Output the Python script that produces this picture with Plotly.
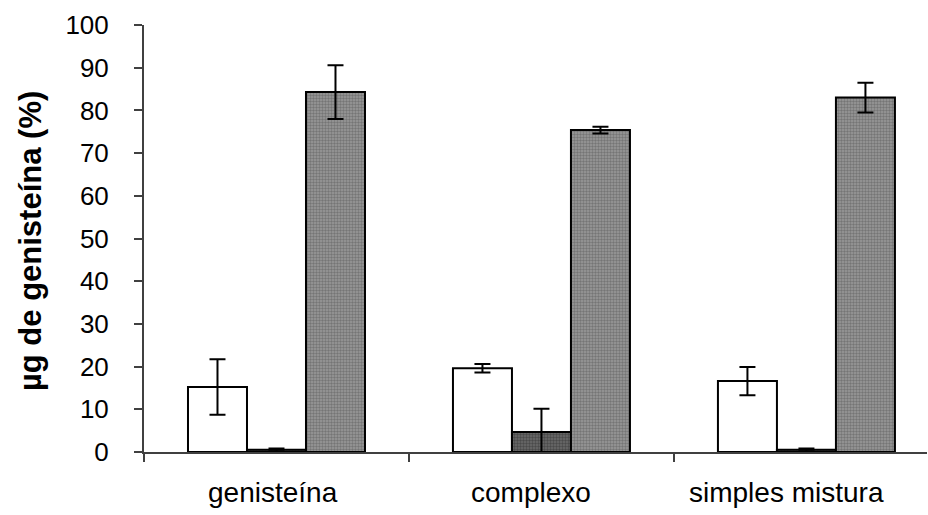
import plotly.graph_objects as go

# Sample groups and measured genistein recovery (%)
categories = ["genisteína", "complexo", "simples mistura"]
positions = [0, 1, 2]

series1_values = [15.2, 19.6, 16.6]
series1_errors = [6.5, 1.0, 3.3]

series2_values = [0.5, 4.7, 0.5]
series2_errors = [0.3, 5.4, 0.3]

series3_values = [84.3, 75.4, 83.0]
series3_errors = [6.3, 0.8, 3.5]

y_ticks = list(range(0, 101, 10))
label_offsets = [-0.015, -0.04, -0.075]

FONT = "Liberation Sans, Arial, sans-serif"
err_style = dict(type="data", color="black", thickness=2, width=8, visible=True)
outline = dict(color="black", width=2)

fig = go.Figure()
fig.add_trace(go.Bar(
    x=positions, y=series1_values,
    error_y=dict(array=series1_errors, **err_style),
    marker=dict(color="white", line=outline),
))
fig.add_trace(go.Bar(
    x=positions, y=series2_values,
    error_y=dict(array=series2_errors, **err_style),
    marker=dict(color="#5a5a5a", line=outline,
                pattern=dict(shape=".", fgcolor="#2a2a2a", bgcolor="#6a6a6a",
                             size=3, solidity=0.5)),
))
fig.add_trace(go.Bar(
    x=positions, y=series3_values,
    error_y=dict(array=series3_errors, **err_style),
    marker=dict(color="#8c8c8c", line=outline,
                pattern=dict(shape=".", fgcolor="#505050", bgcolor="#9a9a9a",
                             size=3, solidity=0.5)),
))

# Category labels, nudged under each bar group
for pos, name, off in zip(positions, categories, label_offsets):
    fig.add_annotation(
        x=pos + off, xref="x", y=-0.095, yref="paper",
        text=name, showarrow=False, yanchor="middle",
        font=dict(family=FONT, size=28, color="black"),
    )

# Y-axis title
fig.add_annotation(
    x=-0.1456, xref="paper", y=0.494, yref="paper",
    text="<b>µg de genisteína (%)</b>", textangle=-90,
    showarrow=False, xanchor="center", yanchor="middle",
    font=dict(family=FONT, size=31, color="black"),
)

fig.update_layout(
    width=928, height=515,
    margin=dict(l=144, r=1, t=25, b=63),
    paper_bgcolor="white", plot_bgcolor="white",
    barmode="group", bargap=0.332, bargroupgap=0,
    showlegend=False,
    font=dict(family=FONT, size=26, color="black"),
    xaxis=dict(
        range=[-0.5, 2.455],
        tickmode="array", tickvals=[-0.5, 0.5, 1.5], ticktext=["", "", ""],
        ticks="outside", ticklen=8, tickwidth=2, tickcolor="#404040",
        showline=True, linecolor="#404040", linewidth=2,
        showgrid=False, zeroline=False,
    ),
    yaxis=dict(
        range=[0, 100],
        tickmode="array", tickvals=y_ticks,
        ticks="outside", ticklen=8, tickwidth=1.5, tickcolor="#404040",
        showline=True, linecolor="#404040", linewidth=2,
        showgrid=False, zeroline=False,
        tickfont=dict(family=FONT, size=26),
        ticklabelstandoff=20,
    ),
)

fig.write_html("out.html")
